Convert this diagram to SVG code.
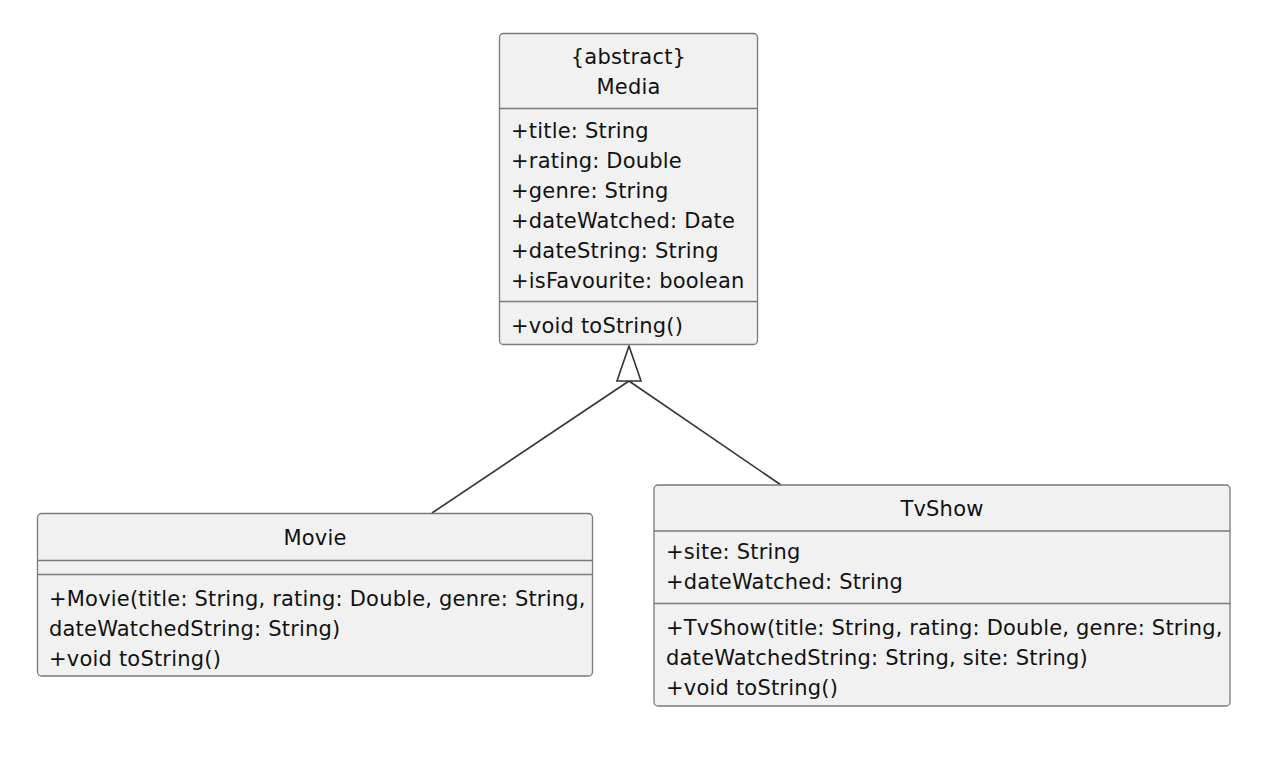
<svg xmlns="http://www.w3.org/2000/svg" width="1284" height="764" viewBox="0 0 1284 764">
<style>
.box{fill:#F1F1F1;stroke:#7a7a7a;stroke-width:1.3}
.sep{stroke:#7a7a7a;stroke-width:1.3}
text{font-family:"DejaVu Sans","Liberation Sans",sans-serif;font-size:21px;fill:#111;letter-spacing:0.2px}
.c{text-anchor:middle}
.edge{stroke:#333;stroke-width:1.6;fill:none}
</style>
<rect width="1284" height="764" fill="#fff"/>
<g id="connectors">
<line class="edge" x1="629" y1="381" x2="432" y2="513"/>
<line class="edge" x1="629" y1="381" x2="781" y2="485"/>
<polygon points="629,346 617,381 641,381" fill="#fff" stroke="#333" stroke-width="1.6"/>
</g>
<g id="Media">
<rect class="box" x="499.5" y="33.5" width="258" height="311" rx="4"/>
<line class="sep" x1="499.5" y1="108.5" x2="757.5" y2="108.5"/>
<line class="sep" x1="499.5" y1="301.5" x2="757.5" y2="301.5"/>
<text class="c" x="628.5" y="64">{abstract}</text>
<text class="c" x="628.5" y="94">Media</text>
<text x="511" y="138">+title: String</text>
<text x="511" y="168">+rating: Double</text>
<text x="511" y="198">+genre: String</text>
<text x="511" y="228">+dateWatched: Date</text>
<text x="511" y="258">+dateString: String</text>
<text x="511" y="288">+isFavourite: boolean</text>
<text x="511" y="333">+void toString()</text>
</g>
<g id="Movie">
<rect class="box" x="37.5" y="513.5" width="555" height="162.5" rx="4"/>
<line class="sep" x1="37.5" y1="560.5" x2="592.5" y2="560.5"/>
<line class="sep" x1="37.5" y1="574.5" x2="592.5" y2="574.5"/>
<text class="c" x="315" y="544.5">Movie</text>
<text x="49" y="605.5">+Movie(title: String, rating: Double, genre: String,</text>
<text x="49" y="635.5">dateWatchedString: String)</text>
<text x="49" y="665.5">+void toString()</text>
</g>
<g id="TvShow">
<rect class="box" x="654" y="485" width="576" height="221" rx="4"/>
<line class="sep" x1="654" y1="531" x2="1230" y2="531"/>
<line class="sep" x1="654" y1="603.5" x2="1230" y2="603.5"/>
<text class="c" x="942" y="515.5">TvShow</text>
<text x="666" y="559">+site: String</text>
<text x="666" y="589">+dateWatched: String</text>
<text x="666" y="634.5">+TvShow(title: String, rating: Double, genre: String,</text>
<text x="666" y="664.5">dateWatchedString: String, site: String)</text>
<text x="666" y="694.5">+void toString()</text>
</g>
</svg>
